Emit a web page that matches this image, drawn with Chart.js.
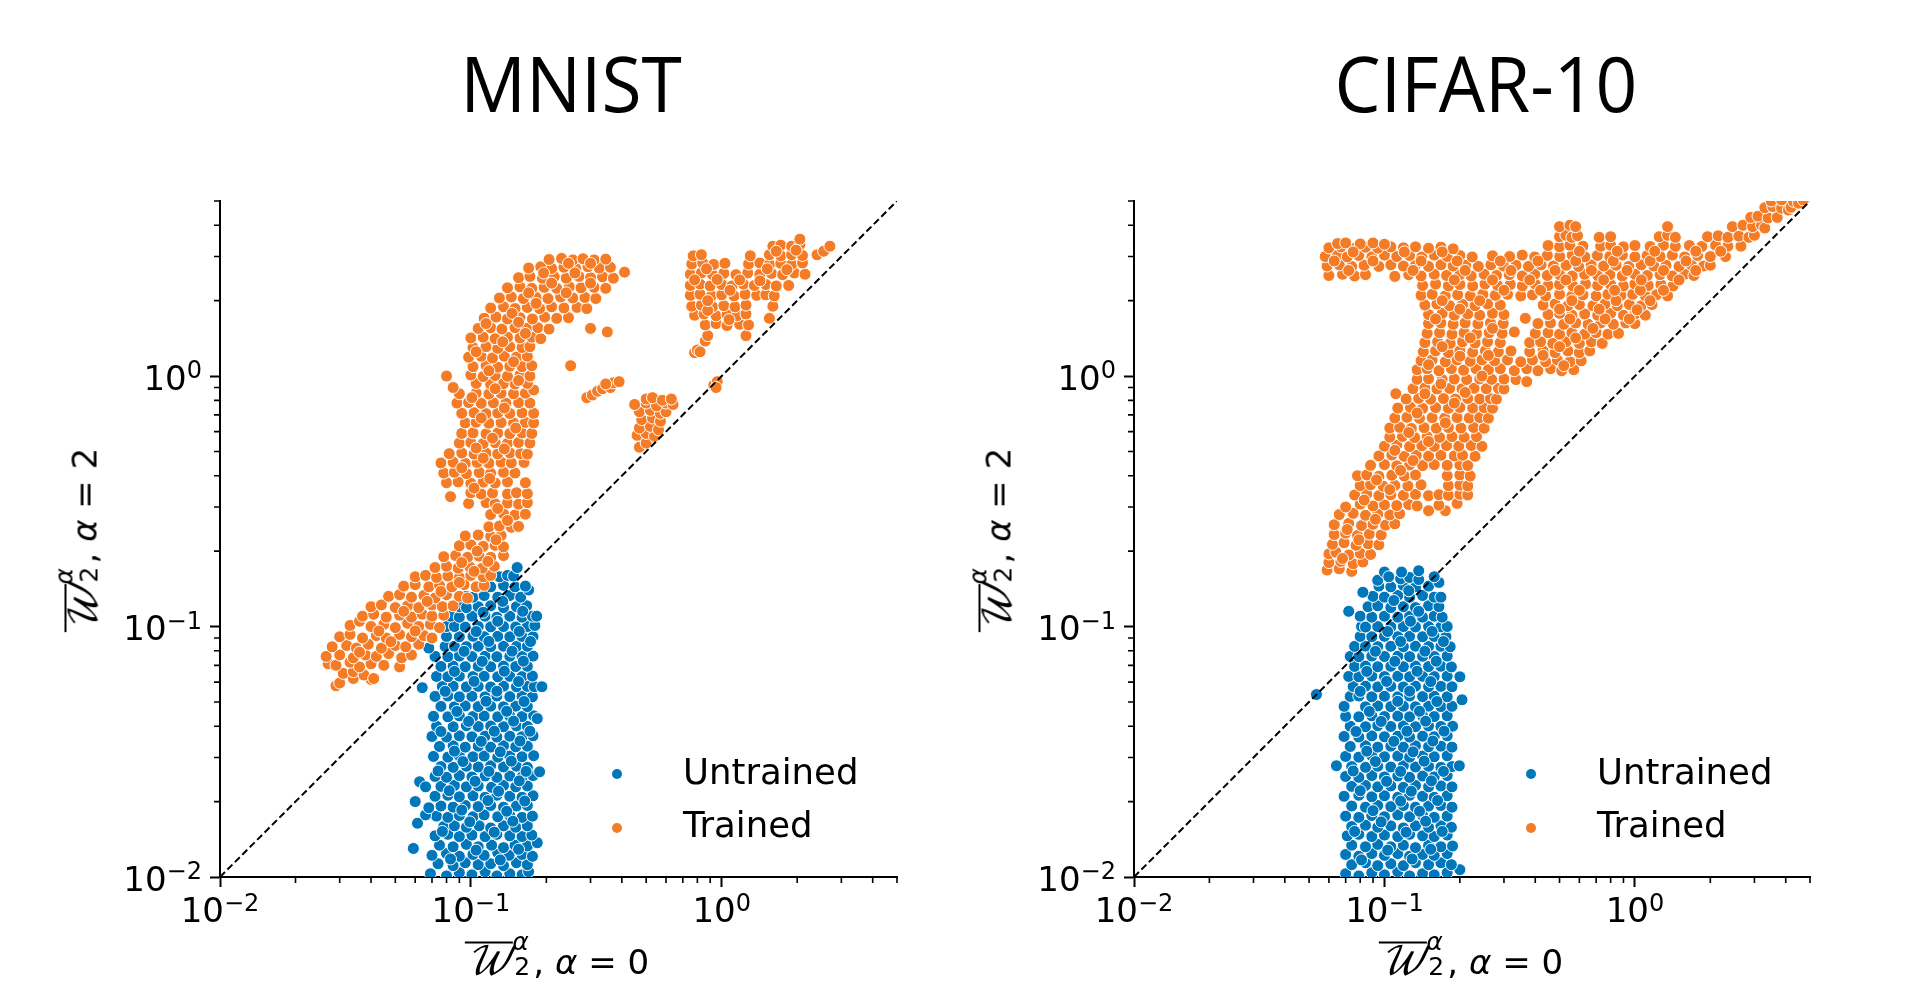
<!DOCTYPE html>
<html>
<head>
<meta charset="utf-8">
<title>MNIST and CIFAR-10</title>
<script src="https://cdn.jsdelivr.net/npm/chart.js@4"></script>
<style>
  html, body { margin: 0; padding: 0; background: #fff; overflow: hidden; }
  canvas { position: absolute; top: 0; }
  #page > div { position: absolute; color: #000; white-space: nowrap; font-family: 'DejaVu Sans', sans-serif; }
  .panel-title { font-family: 'Open Sans', sans-serif !important; font-size: 77px; line-height: 100px; top: 33px; transform: translateX(-50%) scaleX(0.95); }
  .axis-title { font-size: 34px; line-height: 60px; transform: translate(-50%, -50%); }
  .axis-title.rot { transform: translate(-50%, -50%) rotate(-90deg); }
  .cal { font-family: 'DejaVu Math TeX Gyre', 'Liberation Serif', serif; font-style: italic; font-size: 38px; border-top: 2px solid #000; }
  .scripts { display: inline-block; position: relative; width: 21px; height: 1em; }
  .scripts i { position: absolute; left: 0; top: -13px; font-size: 25px; line-height: 30px; }
  .scripts b { position: absolute; left: 2px; top: 12px; font-size: 25px; font-weight: normal; line-height: 30px; }
  .legend-text { font-size: 35.5px; line-height: 40px; }
  .legend-dot { width: 10px; height: 10px; border-radius: 50%; }
</style>
</head>
<body>
<div id="page">
  <canvas id="chartLeft" width="954" height="1001" style="left:0"></canvas>
  <canvas id="chartRight" width="954" height="1001" style="left:954px"></canvas>
</div>
<script>
'use strict'

const seriesNames = ['Untrained', 'Trained'];
const panelTitles = ['MNIST', 'CIFAR-10'];
const majorTicks = [0.01, 0.1, 1];
const tickExponents = ['\u22122', '\u22121', '0'];
const minorTicks = [0.02, 0.03, 0.04, 0.05, 0.06, 0.07, 0.08, 0.09, 0.2, 0.3, 0.4, 0.5, 0.6, 0.7, 0.8, 0.9, 2, 3, 4, 5];
const diagonal = [[0.01, 0.01], [5, 5]];

const mnistUntrained = [
[.069,.0103],[.08,.0101],[.09,.0104],[.101,.0102],[.114,.0105],[.127,.0101],[.143,.0103],[.16,.0102],[.17,.0105],
[.074,.0113],[.085,.0111],[.095,.0114],[.107,.0112],[.12,.0113],[.135,.0111],[.152,.0114],[.168,.0112],
[.07,.0122],[.08,.0124],[.09,.0121],[.102,.0123],[.113,.0122],[.128,.0125],[.142,.0122],[.16,.0123],[.176,.0121],
[.075,.0134],[.085,.0132],[.096,.0135],[.107,.0132],[.121,.0134],[.135,.0131],[.15,.0134],[.168,.0133],[.184,.0137],
[.072,.0146],[.081,.0148],[.09,.0145],[.101,.0147],[.114,.0145],[.127,.0148],[.143,.0146],[.16,.0145],[.175,.0147],
[.078,.0159],[.086,.016],[.096,.0158],[.108,.016],[.12,.0157],[.135,.016],[.151,.0158],[.168,.016],
[.073,.0175],[.081,.0173],[.09,.0176],[.102,.0174],[.113,.0177],[.128,.0174],[.143,.0176],[.16,.0173],[.176,.0175],
[.076,.0192],[.085,.019],[.095,.0193],[.107,.0191],[.12,.0193],[.135,.019],[.152,.0192],[.168,.0193],
[.072,.021],[.081,.0212],[.09,.0209],[.102,.0211],[.114,.0208],[.127,.0212],[.143,.021],[.16,.0208],[.177,.0211],
[.076,.023],[.086,.0232],[.096,.0229],[.107,.0231],[.121,.0228],[.135,.0232],[.151,.0229],[.168,.0231],
[.072,.0252],[.08,.025],[.09,.0254],[.101,.0251],[.114,.0253],[.127,.025],[.143,.0253],[.16,.0251],[.177,.0254],
[.076,.0276],[.085,.0274],[.096,.0277],[.107,.0275],[.12,.0278],[.135,.0275],[.152,.0277],[.168,.0274],
[.071,.0303],[.081,.0301],[.09,.0305],[.102,.0302],[.113,.0304],[.128,.0301],[.143,.0304],[.16,.0302],[.178,.0305],
[.075,.0332],[.085,.0334],[.095,.033],[.107,.0333],[.12,.033],[.135,.0334],[.151,.0331],[.168,.0333],
[.07,.0364],[.08,.0362],[.09,.0366],[.101,.0363],[.114,.0365],[.127,.0362],[.143,.0365],[.16,.0363],[.177,.0366],
[.073,.04],[.085,.0398],[.096,.0402],[.107,.0399],[.12,.0401],[.135,.0398],[.152,.0401],[.168,.0399],
[.071,.0438],[.081,.0436],[.09,.044],[.102,.0437],[.113,.0439],[.128,.0436],[.143,.0439],[.16,.0437],[.178,.044],[.184,.0429],
[.076,.048],[.086,.0478],[.095,.0482],[.107,.0479],[.12,.0481],[.135,.0478],[.151,.0481],[.168,.0479],
[.072,.0526],[.081,.0528],[.09,.0524],[.101,.0527],[.114,.0524],[.127,.0528],[.143,.0525],[.16,.0527],[.176,.0524],
[.077,.0576],[.085,.0578],[.096,.0574],[.107,.0577],[.12,.0574],[.135,.0578],[.152,.0575],[.168,.0577],[.179,.0575],[.192,.0575],[.064,.057],
[.073,.0632],[.081,.063],[.09,.0634],[.102,.0631],[.113,.0633],[.128,.063],[.143,.0633],[.16,.0631],[.176,.0634],
[.076,.0693],[.085,.0695],[.095,.0691],[.107,.0694],[.12,.0691],[.135,.0695],[.151,.0692],[.168,.0694],
[.072,.076],[.081,.0758],[.09,.0762],[.101,.0759],[.114,.0761],[.127,.0758],[.143,.0761],[.16,.0759],[.177,.0762],
[.068,.082],[.079,.0833],[.086,.0835],[.096,.0831],[.107,.0834],[.12,.0831],[.135,.0835],[.152,.0832],[.168,.0834],
[.08,.0913],[.09,.091],[.102,.0914],[.113,.0911],[.128,.0914],[.143,.091],[.16,.0913],[.177,.0911],
[.08,.1],[.086,.1],[.095,.0995],[.107,.1],[.12,.0997],[.135,.1],[.151,.0996],[.168,.1],[.18,.101],
[.083,.11],[.09,.109],[.101,.11],[.114,.11],[.127,.109],[.143,.11],[.16,.109],[.176,.11],[.183,.11],
[.09,.12],[.096,.119],[.107,.12],[.12,.121],[.135,.119],[.152,.12],[.167,.121],
[.096,.132],[.102,.131],[.113,.133],[.128,.131],[.143,.133],[.158,.131],[.17,.14],
[.108,.145],[.12,.144],[.135,.146],[.15,.144],[.165,.145],
[.13,.158],[.14,.16],[.148,.159],[.153,.172],
[.059,.013],[.06,.02],[.0625,.024],[.066,.0229],[.0613,.0164],[.066,.0177],[.068,.0189],[.188,.0263]
];
const mnistUntrainedOverlap = [
[.083,.0118],[.105,.0128],[.131,.0117],[.155,.0129],[.077,.0152],[.099,.0166],[.124,.0151],[.147,.0167],[.092,.0185],[.117,.0202],[.139,.0183],[.164,.0201],
[.082,.0221],[.104,.0241],[.129,.022],[.156,.0242],[.074,.0265],[.093,.0289],[.118,.0264],[.145,.029],[.166,.0264],[.086,.0318],[.11,.0348],[.131,.0316],[.157,.0349],
[.076,.0381],[.098,.0418],[.124,.0382],[.148,.0419],[.172,.0382],[.088,.0458],[.115,.0503],[.139,.0459],[.163,.0502],[.079,.0551],[.103,.0604],[.127,.0552],[.155,.0603],
[.086,.0662],[.111,.0726],[.136,.0663],[.162,.0727],[.094,.0796],[.118,.0872],[.146,.0797],[.173,.0871],[.105,.0955],[.128,.105],[.156,.0956],[.134,.126],[.112,.114],[.161,.115]
];
const mnistTrained = [
[.029,.058],[.03,.0595],[.034,.062],[.04,.0615],[.031,.065],[.034,.066],[.0375,.064],[.052,.069],[.041,.062],
[.027,.071],[.029,.07],[.033,.072],[.036,.069],[.04,.071],[.045,.07],
[.0265,.076],[.03,.077],[.034,.075],[.038,.077],[.042,.076],[.047,.078],[.053,.075],[.058,.077],
[.028,.083],[.032,.084],[.035,.082],[.039,.085],[.044,.082],[.05,.084],[.055,.083],[.062,.085],
[.03,.091],[.033,.093],[.037,.09],[.042,.092],[.046,.09],[.052,.093],[.058,.091],[.065,.092],[.07,.09],
[.033,.101],[.036,.105],[.04,.1],[.045,.102],[.05,.099],[.056,.103],[.062,.1],[.069,.102],[.075,.099],
[.037,.11],[.041,.112],[.046,.109],[.052,.111],[.058,.109],[.064,.112],[.07,.11],[.078,.111],
[.04,.12],[.044,.122],[.05,.119],[.056,.121],[.062,.119],[.07,.122],[.077,.12],[.085,.121],
[.047,.132],[.052,.134],[.058,.131],[.065,.133],[.072,.13],[.08,.134],[.09,.132],[.097,.13],
[.054,.145],[.06,.147],[.068,.144],[.075,.146],[.084,.144],[.094,.147],[.105,.144],[.113,.146],
[.06,.158],[.066,.16],[.073,.157],[.081,.159],[.09,.157],[.1,.16],[.112,.158],[.12,.16],
[.072,.172],[.08,.174],[.089,.171],[.099,.173],[.111,.171],[.124,.174],
[.078,.19],[.087,.192],[.097,.189],[.108,.191],[.12,.189],[.135,.192],
[.09,.21],[.1,.212],[.112,.209],[.125,.211],[.135,.208],
[.095,.23],[.107,.232],[.12,.229],[.132,.231],
[.118,.25],[.13,.252],[.145,.249],[.155,.251],
[.12,.28],[.135,.282],[.15,.279],[.165,.281],
[.098,.31],[.115,.312],[.125,.309],[.14,.311],[.155,.308],[.168,.312],
[.083,.33],[.1,.342],[.11,.338],[.122,.341],[.14,.338],[.152,.342],[.168,.339],
[.08,.375],[.089,.378],[.1,.373],[.112,.377],[.125,.374],[.14,.378],[.165,.375],
[.078,.41],[.086,.413],[.096,.408],[.108,.412],[.12,.409],[.135,.413],[.15,.41],
[.076,.45],[.085,.453],[.095,.448],[.106,.452],[.118,.449],[.132,.453],[.145,.45],[.163,.452],
[.082,.49],[.092,.493],[.103,.488],[.115,.492],[.128,.489],[.143,.493],[.158,.49],[.168,.488],
[.09,.54],[.1,.543],[.112,.538],[.125,.542],[.14,.539],[.155,.543],[.172,.54],
[.092,.59],[.102,.593],[.115,.588],[.128,.592],[.143,.589],[.16,.593],[.175,.59],
[.095,.65],[.105,.654],[.118,.648],[.132,.652],[.148,.649],[.165,.653],[.178,.65],
[.092,.71],[.103,.714],[.115,.708],[.128,.712],[.143,.709],[.16,.713],[.178,.71],
[.088,.78],[.098,.784],[.11,.778],[.123,.782],[.138,.779],[.155,.783],[.172,.78],
[.09,.85],[.105,.855],[.118,.848],[.132,.853],[.148,.849],[.165,.854],[.178,.88],
[.085,.9],[.105,.935],[.12,.928],[.135,.933],[.15,.929],[.168,.934],
[.08,1],[.1,1.01],[.112,.995],[.125,1.005],[.14,.998],[.157,1.01],[.172,1],
[.102,1.09],[.115,1.1],[.128,1.085],[.143,1.095],[.16,1.09],[.175,1.1],
[.098,1.19],[.11,1.2],[.122,1.18],[.136,1.2],[.152,1.19],[.168,1.2],
[.102,1.3],[.115,1.31],[.128,1.29],[.143,1.31],[.16,1.3],[.172,1.31],
[.1,1.42],[.112,1.43],[.125,1.41],[.14,1.43],[.157,1.42],[.175,1.43],[.19,1.41],
[.107,1.55],[.12,1.56],[.133,1.54],[.15,1.56],[.167,1.55],[.185,1.56],[.205,1.54],[.3,1.55],[.35,1.5],
[.113,1.7],[.126,1.72],[.14,1.69],[.157,1.71],[.176,1.69],[.197,1.72],[.22,1.7],[.245,1.71],[.25,1.1],
[.12,1.87],[.135,1.89],[.15,1.86],[.168,1.88],[.188,1.86],[.21,1.89],[.235,1.87],[.265,1.88],[.29,1.86],
[.13,2.05],[.145,2.07],[.162,2.04],[.182,2.06],[.203,2.04],[.228,2.07],[.255,2.05],[.285,2.06],[.315,2.04],
[.14,2.25],[.157,2.27],[.175,2.24],[.196,2.26],[.22,2.24],[.247,2.27],[.275,2.25],[.31,2.26],[.345,2.24],
[.155,2.47],[.172,2.5],[.193,2.46],[.215,2.49],[.24,2.46],[.27,2.5],[.3,2.47],[.335,2.49],[.37,2.46],[.41,2.6],
[.17,2.7],[.19,2.73],[.21,2.69],[.235,2.72],[.262,2.69],[.293,2.73],[.325,2.7],[.36,2.72],
[.205,2.92],[.23,2.95],[.255,2.91],[.28,2.94],[.31,2.91],[.345,2.93],
[.78,1.24],[.8,1.27],[.82,1.25],[.86,1.38],[.88,1.45],[1.25,1.45],
[.86,1.6],[.95,1.62],[1.05,1.59],[1.18,1.61],[1.28,1.6],[1.55,1.7],
[.78,1.75],[.85,1.77],[.95,1.74],[1.05,1.76],[1.15,1.74],[1.25,1.77],
[.76,1.9],[.83,1.92],[.92,1.89],[1.02,1.91],[1.13,1.89],[1.25,1.92],[1.6,1.9],
[.75,2.1],[.82,2.12],[.91,2.09],[1,2.11],[1.12,2.09],[1.24,2.12],[1.38,2.1],[1.5,2.11],[1.62,2.09],
[.75,2.3],[.82,2.33],[.9,2.29],[1,2.32],[1.1,2.29],[1.22,2.33],[1.35,2.3],[1.5,2.32],[1.65,2.29],[1.85,2.3],
[.75,2.55],[.83,2.58],[.92,2.54],[1.02,2.57],[1.14,2.54],[1.27,2.58],[1.42,2.55],[1.58,2.57],[1.75,2.54],[1.95,2.58],[2.15,2.55],
[.76,2.8],[.84,2.83],[.93,2.79],[1.03,2.82],[1.28,2.8],[1.42,2.83],[1.55,2.79],[1.72,2.82],[1.9,2.79],[2.1,2.83],[2.4,3.05],
[.77,3.02],[.83,3.05],[1.3,3.02],[1.55,3.05],[1.72,3.02],[1.9,3.05],[2.1,3.03],[2.55,3.15],[2.7,3.3],
[1.6,3.3],[1.72,3.33],[1.9,3.3],[2.05,3.35],[2.05,3.52],
[.29,.82],[.305,.84],[.32,.87],[.335,.89],[.36,.9],[.37,.94],[.345,.93],[.39,.95],
[.47,.52],[.5,.54],[.46,.58],[.5,.59],[.54,.575],[.47,.62],[.52,.63],[.56,.61],[.48,.67],[.53,.68],[.57,.66],
[.47,.72],[.52,.73],[.57,.71],[.6,.72],[.45,.77],[.5,.78],[.55,.76],[.6,.78],[.64,.77],[.5,.81],[.53,.82],[.58,.8],[.63,.81],
[.93,.92],[.96,.95],[.95,.9]
];
const mnistTrainedOverlap = [
[.036,.079],[.048,.087],[.06,.096],[.043,.096],[.054,.115],[.067,.126],[.076,.138],[.09,.15],[.103,.166],[.117,.182],[.092,.18],[.106,.2],[.126,.222],[.14,.265],[.128,.296],
[.103,.357],[.119,.39],[.092,.43],[.112,.47],[.136,.512],[.105,.516],[.122,.565],[.151,.62],[.11,.68],[.136,.745],[.101,.82],[.125,.89],[.155,.96],[.118,1.05],[.148,1.14],
[.105,1.25],[.134,1.37],[.165,1.48],[.115,1.62],[.146,1.78],[.182,1.95],[.17,2.15],[.21,2.35],[.26,2.58],[.155,1.64],[.24,2.15],[.3,2.35],[.195,2.58],[.245,2.82],[.3,2.82],
[.88,1.83],[1.08,2.2],[.78,2.42],[.96,2.43],[1.18,2.42],[1.42,2.4],[.87,2.68],[1.52,2.68],[1.82,2.66],[.88,2],[1.07,1.68],[1.65,3.15],[1.98,3.18]
];
const cifarUntrained = [
[.07,.0103],[.079,.0101],[.089,.0104],[.1,.0102],[.113,.0105],[.126,.0101],[.142,.0103],[.158,.0102],[.178,.0104],[.2,.0107],
[.074,.0112],[.084,.0114],[.094,.0111],[.106,.0113],[.119,.0111],[.133,.0114],[.15,.0112],[.168,.0114],[.185,.0112],
[.07,.0123],[.079,.0121],[.089,.0124],[.1,.0122],[.113,.0124],[.126,.0121],[.142,.0123],[.158,.0122],[.178,.0124],
[.074,.0134],[.084,.0132],[.094,.0135],[.106,.0132],[.119,.0134],[.133,.0131],[.15,.0134],[.168,.0132],[.187,.0133],
[.071,.0146],[.079,.0148],[.089,.0145],[.1,.0147],[.113,.0145],[.126,.0148],[.142,.0146],[.158,.0145],[.178,.0147],
[.074,.0159],[.084,.0161],[.094,.0158],[.106,.016],[.119,.0157],[.133,.016],[.15,.0158],[.168,.016],[.185,.0158],
[.07,.0175],[.079,.0173],[.089,.0176],[.1,.0174],[.113,.0177],[.126,.0174],[.142,.0176],[.158,.0173],[.178,.0175],
[.074,.0192],[.084,.019],[.094,.0193],[.106,.0191],[.119,.0193],[.133,.019],[.15,.0192],[.168,.0193],[.186,.019],
[.069,.021],[.079,.0212],[.089,.0209],[.1,.0211],[.113,.0208],[.126,.0212],[.142,.021],[.158,.0208],[.178,.0211],
[.074,.023],[.084,.0232],[.094,.0229],[.106,.0231],[.119,.0228],[.133,.0232],[.15,.0229],[.168,.0231],[.186,.0229],
[.07,.0252],[.079,.025],[.089,.0254],[.1,.0251],[.113,.0253],[.126,.025],[.142,.0253],[.158,.0251],[.178,.0254],
[.0643,.0278],[.074,.0276],[.084,.0274],[.094,.0277],[.106,.0275],[.119,.0278],[.133,.0275],[.15,.0277],[.168,.0274],[.186,.0276],[.199,.0278],
[.07,.0303],[.079,.0301],[.089,.0305],[.1,.0302],[.113,.0304],[.126,.0301],[.142,.0304],[.158,.0302],[.178,.0305],
[.073,.0332],[.084,.0334],[.094,.033],[.106,.0333],[.119,.033],[.133,.0334],[.15,.0331],[.168,.0333],[.186,.033],
[.069,.0364],[.079,.0362],[.089,.0366],[.1,.0363],[.113,.0365],[.126,.0362],[.142,.0365],[.158,.0363],[.178,.0366],
[.073,.04],[.084,.0398],[.094,.0402],[.106,.0399],[.119,.0401],[.133,.0398],[.15,.0401],[.168,.0399],[.187,.04],
[.07,.0438],[.079,.0436],[.089,.044],[.1,.0437],[.113,.0439],[.126,.0436],[.142,.0439],[.158,.0437],[.178,.044],
[.069,.048],[.084,.0478],[.094,.0482],[.106,.0479],[.119,.0481],[.133,.0478],[.15,.0481],[.168,.0479],[.186,.048],[.204,.051],[.0535,.0535],
[.073,.0526],[.079,.0528],[.089,.0524],[.1,.0527],[.113,.0524],[.126,.0528],[.142,.0525],[.158,.0527],[.178,.0524],
[.075,.0576],[.084,.0578],[.094,.0574],[.106,.0577],[.119,.0574],[.133,.0578],[.15,.0575],[.168,.0577],[.186,.0575],
[.072,.0632],[.079,.063],[.089,.0634],[.1,.0631],[.113,.0633],[.126,.063],[.142,.0633],[.158,.0631],[.178,.0634],[.2,.063],
[.076,.0693],[.084,.0695],[.094,.0691],[.106,.0694],[.119,.0691],[.133,.0695],[.15,.0692],[.168,.0694],[.185,.069],
[.073,.076],[.079,.0758],[.089,.0762],[.1,.0759],[.113,.0761],[.126,.0758],[.142,.0761],[.158,.0759],[.178,.0762],
[.076,.0833],[.084,.0835],[.094,.0831],[.106,.0834],[.119,.0831],[.133,.0835],[.15,.0832],[.168,.0834],[.183,.083],
[.08,.0913],[.089,.091],[.1,.0914],[.113,.0911],[.126,.0914],[.142,.091],[.158,.0913],[.176,.0911],
[.081,.1],[.084,.0995],[.094,.1],[.106,.0997],[.119,.1],[.133,.0996],[.15,.1],[.168,.0997],[.178,.1],
[.072,.115],[.08,.11],[.089,.109],[.1,.11],[.113,.109],[.126,.11],[.142,.109],[.158,.11],[.17,.109],
[.086,.12],[.094,.121],[.106,.119],[.119,.12],[.133,.119],[.15,.121],[.165,.12],
[.09,.132],[.1,.131],[.113,.133],[.126,.131],[.142,.133],[.158,.131],[.168,.131],
[.082,.137],[.095,.145],[.106,.144],[.119,.146],[.133,.144],[.15,.145],[.165,.15],
[.094,.153],[.1,.165],[.104,.158],[.116,.155],[.126,.157],[.137,.154],[.117,.165],[.137,.167],[.158,.158]
];
const cifarUntrainedOverlap = [
[.081,.0117],[.103,.0128],[.129,.0118],[.153,.0129],[.076,.0152],[.097,.0166],[.122,.0151],[.146,.0167],[.17,.0152],[.09,.0184],[.116,.0201],[.138,.0183],[.163,.0202],
[.08,.0221],[.102,.0241],[.128,.022],[.154,.0242],[.075,.0265],[.092,.0289],[.116,.0264],[.144,.029],[.172,.0264],[.085,.0318],[.109,.0348],[.13,.0316],[.156,.0349],
[.077,.0381],[.097,.0418],[.123,.0382],[.146,.0419],[.173,.0382],[.087,.0458],[.113,.0503],[.138,.0459],[.162,.0502],[.08,.0551],[.102,.0604],[.126,.0552],[.153,.0603],
[.085,.0662],[.11,.0726],[.135,.0663],[.161,.0727],[.092,.0796],[.116,.0872],[.145,.0797],[.172,.0871],[.103,.0955],[.127,.105],[.155,.0956],[.109,.127],[.137,.115],[.125,.139]
];
const cifarTrained = [
[.059,.168],[.066,.17],[.074,.166],[.06,.18],[.067,.182],[.075,.178],[.082,.181],
[.06,.195],[.064,.198],[.072,.193],[.08,.196],[.088,.194],
[.062,.213],[.069,.216],[.077,.211],[.086,.214],[.095,.212],
[.063,.233],[.07,.236],[.078,.231],[.087,.234],[.097,.232],
[.063,.255],[.072,.258],[.081,.253],[.09,.256],[.101,.254],[.11,.257],
[.066,.28],[.075,.283],[.084,.278],[.094,.281],[.105,.279],[.115,.282],[.15,.29],[.175,.29],
[.07,.3],[.08,.308],[.09,.303],[.1,.306],[.112,.304],[.125,.307],[.135,.303],[.165,.305],[.195,.31],
[.076,.335],[.085,.338],[.095,.333],[.106,.336],[.119,.334],[.133,.337],[.15,.333],[.165,.336],[.18,.334],[.2,.337],[.215,.335],
[.08,.365],[.088,.368],[.099,.363],[.11,.366],[.124,.364],[.14,.368],[.18,.365],[.2,.367],[.215,.364],
[.078,.4],[.085,.403],[.095,.398],[.107,.402],[.12,.399],[.133,.403],[.178,.4],[.2,.403],[.22,.399],
[.088,.44],[.1,.443],[.112,.438],[.126,.442],[.142,.439],[.158,.443],[.178,.44],[.2,.442],[.215,.439],
[.095,.48],[.107,.484],[.12,.478],[.134,.482],[.15,.479],[.168,.483],[.19,.48],[.205,.483],[.23,.478],
[.1,.525],[.112,.529],[.126,.523],[.141,.527],[.158,.524],[.177,.528],[.198,.525],[.222,.528],[.245,.524],
[.105,.57],[.118,.574],[.132,.568],[.148,.572],[.166,.569],[.186,.573],[.208,.57],[.233,.573],
[.105,.62],[.115,.624],[.128,.618],[.144,.622],[.161,.619],[.18,.623],[.202,.62],[.227,.623],[.25,.619],
[.11,.68],[.123,.684],[.138,.678],[.155,.682],[.174,.679],[.195,.683],[.218,.68],[.24,.683],[.26,.679],
[.113,.745],[.127,.75],[.142,.743],[.16,.748],[.18,.744],[.2,.749],[.225,.745],[.25,.748],[.27,.744],
[.111,.85],[.122,.81],[.137,.815],[.153,.808],[.172,.813],[.192,.809],[.215,.814],[.24,.81],[.265,.813],[.28,.809],
[.13,.89],[.145,.895],[.162,.888],[.182,.893],[.204,.889],[.228,.894],[.255,.89],[.285,.893],[.3,.888],
[.135,.97],[.15,.975],[.17,.968],[.19,.973],[.213,.969],[.24,.974],[.268,.97],[.3,.973],[.335,.968],[.37,.95],
[.135,1.06],[.148,1.07],[.165,1.05],[.185,1.07],[.207,1.055],[.232,1.07],[.26,1.06],[.29,1.07],[.33,1.05],[.37,1.07],[.41,1.05],[.46,1.07],[.51,1.05],[.57,1.06],
[.14,1.15],[.155,1.16],[.175,1.14],[.195,1.16],[.22,1.145],[.245,1.16],[.275,1.15],[.31,1.16],[.35,1.14],[.39,1.16],[.44,1.14],[.49,1.16],[.55,1.14],[.61,1.15],
[.143,1.25],[.16,1.26],[.18,1.24],[.2,1.26],[.225,1.245],[.253,1.26],[.285,1.25],[.32,1.26],[.38,1.25],[.43,1.26],[.48,1.24],[.54,1.26],[.6,1.24],[.66,1.26],
[.145,1.36],[.163,1.37],[.183,1.35],[.205,1.37],[.23,1.355],[.258,1.37],[.29,1.36],[.38,1.36],[.42,1.37],[.47,1.35],[.53,1.37],[.6,1.35],[.67,1.37],[.74,1.35],
[.148,1.48],[.166,1.49],[.186,1.47],[.208,1.49],[.233,1.475],[.262,1.49],[.295,1.48],[.33,1.5],[.4,1.48],[.45,1.49],[.5,1.47],[.56,1.49],[.63,1.47],[.7,1.49],[.78,1.47],[.86,1.48],
[.15,1.62],[.168,1.63],[.188,1.61],[.21,1.63],[.236,1.615],[.265,1.63],[.298,1.62],[.41,1.62],[.46,1.63],[.52,1.61],[.58,1.63],[.65,1.61],[.73,1.63],[.82,1.61],[.92,1.63],[1,1.62],
[.15,1.76],[.17,1.78],[.19,1.75],[.215,1.77],[.24,1.75],[.27,1.78],[.3,1.76],[.365,1.7],[.45,1.76],[.5,1.78],[.56,1.75],[.63,1.77],[.71,1.75],[.8,1.78],[.9,1.75],[1,1.77],[1.1,1.75],
[.145,1.92],[.162,1.94],[.182,1.91],[.205,1.93],[.23,1.91],[.258,1.94],[.29,1.92],[.43,1.92],[.48,1.94],[.54,1.91],[.6,1.93],[.68,1.91],[.76,1.94],[.85,1.91],[.95,1.93],[1.06,1.91],[1.17,1.93],
[.14,2.1],[.155,2.12],[.175,2.09],[.196,2.11],[.22,2.09],[.247,2.12],[.277,2.1],[.31,2.12],[.35,2.09],[.39,2.11],[.44,2.09],[.5,2.12],[.56,2.09],[.62,2.11],[.7,2.09],[.78,2.12],[.88,2.1],[.98,2.12],[1.1,2.09],[1.22,2.11],[1.35,2.09],
[.142,2.3],[.16,2.33],[.18,2.29],[.2,2.32],[.225,2.29],[.252,2.33],[.283,2.3],[.318,2.32],[.355,2.29],[.4,2.33],[.45,2.3],[.5,2.32],[.565,2.29],[.635,2.33],[.71,2.3],[.8,2.32],[.9,2.29],[1,2.33],[1.13,2.3],[1.27,2.32],[1.42,2.29],
[.06,2.52],[.068,2.55],[.076,2.51],[.084,2.54],[.11,2.5],[.125,2.54],[.14,2.51],[.158,2.55],[.177,2.52],[.2,2.54],[.222,2.51],[.25,2.55],[.28,2.52],[.315,2.54],[.355,2.51],[.398,2.55],[.447,2.52],[.5,2.54],[.562,2.51],[.63,2.55],[.71,2.52],[.794,2.54],[.89,2.51],[1,2.55],[1.12,2.52],[1.26,2.54],[1.41,2.51],[1.58,2.55],[1.72,2.52],
[.059,2.75],[.066,2.78],[.074,2.74],[.083,2.77],[.095,2.74],[.106,2.78],[.119,2.75],[.133,2.77],[.15,2.74],[.168,2.78],[.188,2.75],[.211,2.77],[.237,2.74],[.266,2.78],[.299,2.75],[.335,2.77],[.376,2.74],[.422,2.78],[.473,2.75],[.531,2.77],[.596,2.74],[.668,2.78],[.75,2.75],[.841,2.77],[.944,2.74],[1.06,2.78],[1.19,2.75],[1.33,2.77],[1.5,2.74],[1.68,2.78],[1.88,2.75],[2,2.77],
[.058,3],[.065,3.04],[.071,2.99],[.079,3.03],[.089,2.99],[.1,3.04],[.112,3],[.126,3.03],[.141,2.99],[.158,3.04],[.178,3],[.2,3.03],[.224,2.99],[.27,3.02],[.316,3],[.355,3.04],[.398,2.99],[.447,3.03],[.501,3],[.562,3.04],[.631,2.99],[.708,3.03],[.794,3],[.891,3.04],[1,2.99],[1.12,3.03],[1.26,3],[1.41,3.04],[1.58,2.99],[1.78,3.03],[2,3],[2.3,3],
[.06,3.25],[.067,3.28],[.075,3.23],[.084,3.27],[.094,3.24],[.106,3.28],[.119,3.25],[.133,3.28],[.15,3.24],[.168,3.27],[.188,3.22],[.45,3.32],[.5,3.28],[.55,3.33],[.62,3.3],[.73,3.3],[.8,3.33],[.9,3.28],[1,3.32],[1.15,3.29],[1.3,3.33],[1.45,3.3],[1.65,3.32],[1.85,3.29],[2.1,3.33],[2.35,3.3],[2.65,3.3],
[.065,3.38],[.07,3.4],[.08,3.37],[.09,3.4],[.1,3.36],[.5,3.6],[.53,3.65],[.56,3.58],[.59,3.63],[.72,3.58],[.8,3.6],[1.25,3.6],[1.35,3.65],[1.45,3.58],[1.95,3.6],[2.15,3.63],[2.35,3.58],[2.6,3.62],[2.85,3.58],[3,3.65],
[.5,3.95],[.55,4],[.58,3.95],[1.35,3.95],[2.45,3.95],[2.7,4],[2.95,3.95],[3.2,4],[3.3,3.9],
[2.9,4.3],[3.1,4.35],[3.4,4.28],[3.7,4.3],[3.3,4.7],[3.55,4.75],[3.85,4.68],[4.1,4.6],[4.2,4.72],
[3.5,5],[3.85,5.05],[4.3,4.98],[4.5,4.9],[4.7,5.05]
];
const cifarTrainedOverlap = [
[.068,.187],[.079,.222],[.071,.244],[.092,.268],[.083,.32],[.105,.352],[.093,.385],[.116,.42],[.13,.46],[.11,.505],[.15,.548],[.125,.595],[.175,.65],[.135,.712],[.19,.78],[.145,.85],
[.21,.86],[.168,.93],[.245,1],[.15,1.11],[.2,1.2],[.26,1.21],[.17,1.31],[.43,1.21],[.52,1.1],[.22,1.42],[.5,1.31],[.27,1.55],[.58,1.42],[.68,1.55],[.16,1.69],[.55,1.69],[.76,1.69],[.95,1.69],
[.2,1.85],[.5,1.85],[.72,1.85],[1.02,1.84],[.17,2],[.24,2],[.56,2],[.84,2],[1.15,2],[.3,2.2],[.42,2.2],[.6,2.2],[.83,2.2],[1.05,2.2],[1.3,2.2],
[.19,2.42],[.27,2.42],[.38,2.42],[.53,2.42],[.75,2.42],[1.06,2.42],[1.5,2.42],[.072,2.64],[.13,2.64],[.21,2.64],[.32,2.64],[.48,2.64],[.67,2.64],[.93,2.64],[1.3,2.64],[1.75,2.64],
[.063,2.88],[.09,2.88],[.14,2.88],[.195,2.88],[.29,2.88],[.41,2.88],[.58,2.88],[.82,2.88],[1.15,2.88],[1.6,2.88],[.075,3.13],[.12,3.13],[.17,3.13],[.6,3.15],[.85,3.15],[1.2,3.15],[1.75,3.15],[2.2,3.15]
];

const untrainedColor = '#0077BB';
const trainedColor = '#F47C26';

// ticks and labels of the log axes, read through the chart's own scales
const tickPlugin = {
  id: 'logTicks',
  afterDraw(chart) {
    const ctx = chart.ctx;
    const area = chart.chartArea;
    const xScale = chart.scales.x;
    const yScale = chart.scales.y;
    ctx.save();
    ctx.strokeStyle = '#000';
    ctx.fillStyle = '#000';
    ctx.lineWidth = 1.6;
    minorTicks.forEach(function (value) {
      ctx.beginPath();
      ctx.moveTo(xScale.getPixelForValue(value), area.bottom);
      ctx.lineTo(xScale.getPixelForValue(value), area.bottom + 6);
      ctx.moveTo(area.left, yScale.getPixelForValue(value));
      ctx.lineTo(area.left - 6, yScale.getPixelForValue(value));
      ctx.stroke();
    });
    ctx.textBaseline = 'alphabetic';
    ctx.textAlign = 'left';
    majorTicks.forEach(function (value, i) {
      const exponent = tickExponents[i];
      ctx.font = '34px "DejaVu Sans"';
      const baseWidth = ctx.measureText('10').width;
      ctx.font = '24px "DejaVu Sans"';
      const total = baseWidth + ctx.measureText(exponent).width;
      const xLeft = xScale.getPixelForValue(value) - total / 2;
      const xBase = area.bottom + 45;
      const yLeft = area.left - 18 - total;
      const yBase = yScale.getPixelForValue(value) + 13.5;
      ctx.font = '34px "DejaVu Sans"';
      ctx.fillText('10', xLeft, xBase);
      ctx.fillText('10', yLeft, yBase);
      ctx.font = '24px "DejaVu Sans"';
      ctx.fillText(exponent, xLeft + baseWidth, xBase - 11.5);
      ctx.fillText(exponent, yLeft + baseWidth, yBase - 11.5);
    });
    ctx.restore();
  }
};

function logAxis(fitSide, size) {
  return {
    type: 'logarithmic',
    min: 0.01,
    max: 5,
    border: { color: '#000', width: 2 },
    grid: { drawOnChartArea: false, color: '#000', tickColor: '#000', tickLength: 10, tickWidth: 2 },
    ticks: { display: false },
    afterBuildTicks(scale) {
      scale.ticks = majorTicks.map(function (v) { return { value: v }; });
    },
    afterFit(scale) {
      scale[fitSide] = size;
    }
  };
}

function scatterSet(label, points, color) {
  return {
    label: label,
    data: points.map(function (p) { return { x: p[0], y: p[1] }; }),
    backgroundColor: color,
    borderColor: '#fff',
    borderWidth: 1,
    pointRadius: 6,
    pointHoverRadius: 6
  };
}

function renderPanel(canvasId, untrained, trained, areaLeft, rightPad) {
  new Chart(document.getElementById(canvasId), {
    type: 'scatter',
    data: {
      datasets: [
        {
          label: 'Diagonal',
          data: diagonal.map(function (p) { return { x: p[0], y: p[1] }; }),
          showLine: true,
          borderColor: '#000',
          borderWidth: 2,
          borderDash: [7, 3.5],
          pointRadius: 0
        },
        scatterSet(seriesNames[1], trained, trainedColor),
        scatterSet(seriesNames[0], untrained, untrainedColor)
      ]
    },
    options: {
      responsive: false,
      animation: false,
      layout: { padding: { left: 0, top: 201, right: rightPad, bottom: 0 } },
      plugins: { legend: { display: false }, tooltip: { enabled: false } },
      scales: {
        x: logAxis('height', 124),
        y: logAxis('width', areaLeft)
      }
    },
    plugins: [tickPlugin]
  });
}

function addDiv(className, style, html) {
  const div = document.createElement('div');
  div.className = className;
  div.style.cssText = style;
  div.innerHTML = html;
  document.getElementById('page').appendChild(div);
}

function axisTitleHtml(alphaValue) {
  return '<span class="cal">\uD835\uDCB2</span><span class="scripts"><i>\u03B1</i><b>2</b></span>, <i>\u03B1</i> = ' + alphaValue;
}

function renderText(offset, titleCenter, title) {
  addDiv('panel-title', 'left:' + titleCenter + 'px', title);
  addDiv('axis-title', 'left:' + (557 + offset) + 'px;top:962px', axisTitleHtml(0));
  addDiv('axis-title rot', 'left:' + (85 + offset) + 'px;top:540px', axisTitleHtml(2));
  addDiv('legend-dot', 'left:' + (612 + offset) + 'px;top:769px;background:' + untrainedColor, '');
  addDiv('legend-dot', 'left:' + (612 + offset) + 'px;top:823px;background:' + trainedColor, '');
  addDiv('legend-text', 'left:' + (683 + offset) + 'px;top:752px', seriesNames[0]);
  addDiv('legend-text', 'left:' + (683 + offset) + 'px;top:805px', seriesNames[1]);
}

renderPanel('chartLeft', mnistUntrained.concat(mnistUntrainedOverlap), mnistTrained.concat(mnistTrainedOverlap), 220, 57);
renderPanel('chartRight', cifarUntrained.concat(cifarUntrainedOverlap), cifarTrained.concat(cifarTrainedOverlap), 180, 98);
renderText(0, 571, panelTitles[0]);
renderText(914, 1486, panelTitles[1]);
</script>
</body>
</html>
